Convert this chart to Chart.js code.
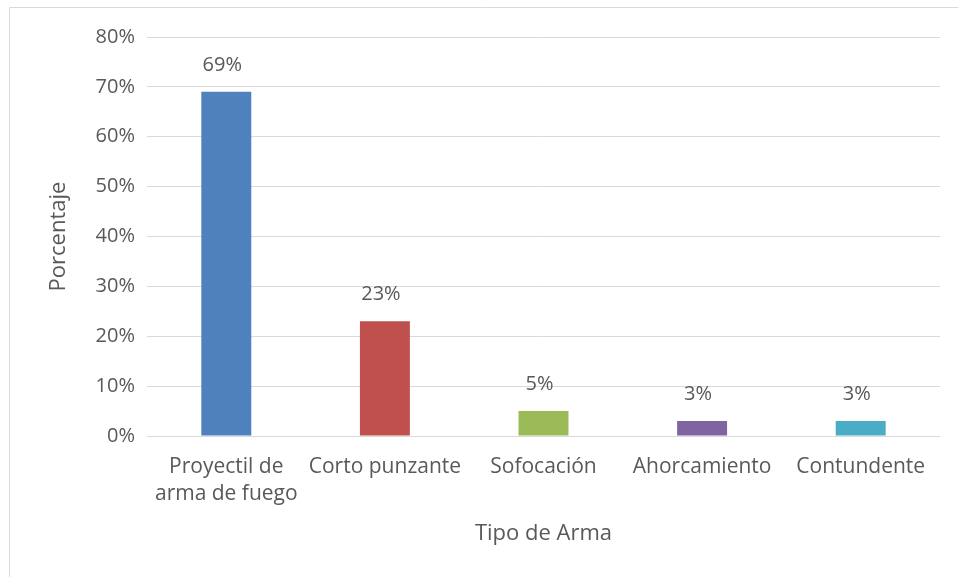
<!DOCTYPE html>
<html>
<head>
<meta charset="utf-8">
<script src="https://cdn.jsdelivr.net/npm/chart.js@4/dist/chart.umd.min.js"></script>
<style>
  html, body { margin: 0; padding: 0; background: #fff; }
  #wrap { position: relative; width: 958px; height: 577px; }
</style>
</head>
<body>
<div id="wrap"><canvas id="chart" width="958" height="577"></canvas></div>
<script>
const categories = [['Proyectil de', 'arma de fuego'], 'Corto punzante', 'Sofocación', 'Ahorcamiento', 'Contundente'];
const porcentajes = [69, 23, 5, 3, 3];
const colores = ['#4F81BD', '#C0504D', '#9BBB59', '#8064A2', '#4BACC6'];
const yTicks = [0, 10, 20, 30, 40, 50, 60, 70, 80];

const textColor = '#595959';
const fontFamily = '"Open Sans", sans-serif';

// marco gris del gráfico + etiquetas de valor sobre las barras
const frameAndLabels = {
  id: 'frameAndLabels',
  beforeDraw(chart) {
    const ctx = chart.ctx;
    ctx.save();
    ctx.strokeStyle = '#d9d9d9';
    ctx.lineWidth = 1;
    ctx.beginPath();
    ctx.moveTo(9.5, 577);
    ctx.lineTo(9.5, 7.5);
    ctx.lineTo(958, 7.5);
    ctx.stroke();
    ctx.restore();
  },
  afterDatasetsDraw(chart) {
    const ctx = chart.ctx;
    const meta = chart.getDatasetMeta(0);
    ctx.save();
    ctx.fillStyle = textColor;
    ctx.font = '20px ' + fontFamily;
    ctx.textAlign = 'center';
    ctx.textBaseline = 'alphabetic';
    meta.data.forEach((bar, i) => {
      ctx.fillText(porcentajes[i] + '%', bar.x - 4, bar.y - 21);
    });
    ctx.restore();
  }
};

new Chart(document.getElementById('chart'), {
  type: 'bar',
  data: {
    labels: categories,
    datasets: [{
      data: porcentajes,
      backgroundColor: colores,
      barPercentage: 0.315,
      categoryPercentage: 1,
    }],
  },
  options: {
    responsive: false,
    animation: false,
    devicePixelRatio: 1,
    layout: { padding: { top: 37, right: 18, left: 0, bottom: 0 } },
    plugins: {
      legend: { display: false },
      tooltip: { enabled: false },
    },
    scales: {
      x: {
        grid: { display: false, drawTicks: false },
        border: { display: false },
        ticks: {
          color: textColor,
          font: { family: fontFamily, size: 21, lineHeight: 1.3 },
          padding: 17,
          maxRotation: 0,
          autoSkip: false,
        },
        title: {
          display: true,
          text: 'Tipo de Arma',
          color: textColor,
          font: { family: fontFamily, size: 22 },
          padding: { top: 0, bottom: 30 },
        },
        afterFit(scale) { scale.height = 141; },
      },
      y: {
        min: 0,
        max: 80,
        afterBuildTicks(scale) { scale.ticks = yTicks.map(v => ({ value: v })); },
        grid: { color: '#d9d9d9', lineWidth: 1, drawTicks: false },
        border: { display: false },
        ticks: {
          color: textColor,
          font: { family: fontFamily, size: 20 },
          padding: 12,
          callback: v => v + '%',
        },
        title: {
          display: true,
          text: 'Porcentaje',
          color: textColor,
          font: { family: fontFamily, size: 22 },
          padding: { top: 46, bottom: 0 },
        },
        afterFit(scale) { scale.width = 147; },
      },
    },
  },
  plugins: [frameAndLabels],
});
</script>
</body>
</html>
